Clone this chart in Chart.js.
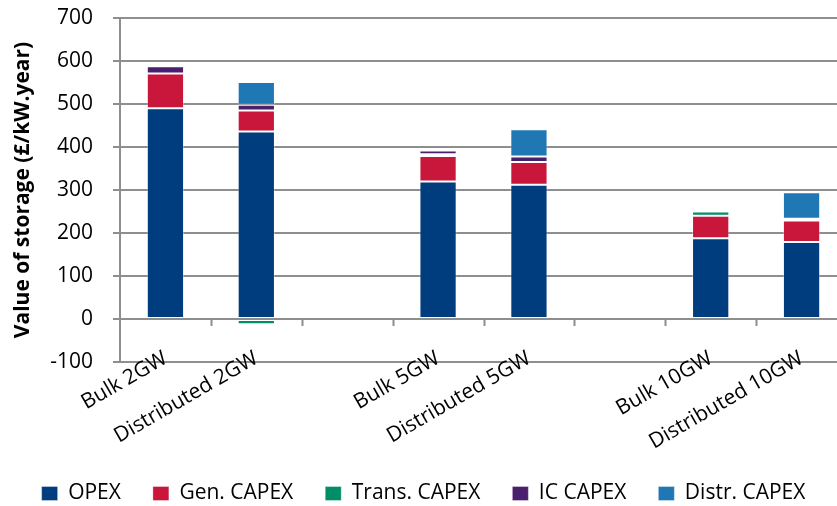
<!DOCTYPE html>
<html lang="en">
<head>
    <meta charset="UTF-8">
    <title>Value of storage</title>
    <script src="https://cdn.jsdelivr.net/npm/chart.js"></script>
    <style>
        html, body { margin: 0; padding: 0; overflow: hidden; background: #fff; }
        #wrap { width: 850px; height: 506px; }
    </style>
</head>
<body>
    <div id="wrap"><canvas id="myChart" width="850" height="506"></canvas></div>

    <script>
        // categories (blank entries are the gaps between groups)
        const categories = ['Bulk 2GW', 'Distributed 2GW', '', 'Bulk 5GW', 'Distributed 5GW', '', 'Bulk 10GW', 'Distributed 10GW'];

        // £/kW.year
        const opex       = [490, 436, null, 320, 312, null, 188, 179];
        const genCapex   = [81, 49, null, 59, 53, null, 52, 50];
        const transCapex = [-1, -12, null, 4, -5, null, 10, -5];
        const icCapex    = [17, 13, null, 9, 13, null, 4, 4];
        const distrCapex = [0, 53, null, 0, 63, null, 0, 62];

        const yTicks = [-100, 0, 100, 200, 300, 400, 500, 600, 700];

        const FONT = 'Open Sans';
        const GRID = '#8e8e8e';

        // small tick marks hanging from the zero line, drawn over the bars like Excel does
        const zeroAxis = {
            id: 'zeroAxis',
            afterDatasetsDraw(chart) {
                const { ctx, scales: { x, y } } = chart;
                const y0 = y.getPixelForValue(0);
                const step = x.width / categories.length;
                ctx.save();
                ctx.strokeStyle = GRID;
                ctx.lineWidth = 2;
                ctx.beginPath();
                ctx.moveTo(x.left, y0);
                ctx.lineTo(x.right, y0);
                for (let i = 1; i < categories.length; i++) {
                    const px = Math.round(x.left + i * step) + 0.5;
                    ctx.moveTo(px, y0);
                    ctx.lineTo(px, y0 + 7);
                }
                ctx.stroke();
                ctx.restore();
            }
        };

        const bar = (label, data, color) => ({
            label: label,
            data: data,
            backgroundColor: color,
            borderColor: 'rgba(255,255,255,0.35)',
            borderWidth: 1,
            borderSkipped: false,
            barPercentage: 0.41,
            categoryPercentage: 1
        });

        var ctx = document.getElementById('myChart').getContext('2d');
        var myChart = new Chart(ctx, {
            type: 'bar',
            data: {
                labels: categories,
                datasets: [
                    bar('OPEX', opex, '#003d7e'),
                    bar('Gen. CAPEX', genCapex, '#c8173b'),
                    bar('Trans. CAPEX', transCapex, '#008e67'),
                    bar('IC CAPEX', icCapex, '#4a1f6e'),
                    bar('Distr. CAPEX', distrCapex, '#1f77b4')
                ]
            },
            plugins: [zeroAxis],
            options: {
                responsive: false,
                animation: false,
                layout: { padding: { left: 0, right: 3, top: 18, bottom: -8 } },
                plugins: {
                    tooltip: { enabled: false },
                    legend: {
                        position: 'bottom',
                        labels: {
                            font: { family: FONT, size: 21 },
                            color: '#000',
                            boxWidth: 16,
                            boxHeight: 14,
                            padding: 32
                        }
                    }
                },
                scales: {
                    x: {
                        stacked: true,
                        offset: true,
                        grid: { display: false, drawTicks: false },
                        border: { display: false },
                        ticks: {
                            autoSkip: false,
                            minRotation: 30,
                            maxRotation: 30,
                            padding: -16,
                            color: '#000',
                            font: { family: FONT, size: 21 }
                        },
                        afterFit(scale) {
                            scale.height = 89;
                            // let the rotated labels run up over the axis line, as in the original
                            scale._computeLabelArea = () => undefined;
                        }
                    },
                    y: {
                        stacked: true,
                        min: -100,
                        max: 700,
                        afterBuildTicks(scale) { scale.ticks = yTicks.map(v => ({ value: v })); },
                        grid: { color: GRID, lineWidth: 2, tickLength: 7, tickColor: GRID },
                        border: { color: GRID, width: 2 },
                        ticks: {
                            padding: 20,
                            color: '#000',
                            font: { family: FONT, size: 21 }
                        },
                        title: {
                            display: true,
                            text: 'Value of storage (£/kW.year)',
                            color: '#000',
                            font: { family: FONT, size: 21, weight: 'bold' },
                            padding: { top: 10, bottom: 4 }
                        },
                        afterFit(scale) {
                            scale.width = 120;
                            // tick padding should not push the plot down from the top
                            scale.paddingTop = 0;
                            scale.paddingBottom = 0;
                        }
                    }
                }
            }
        });
    </script>
</body>
</html>
